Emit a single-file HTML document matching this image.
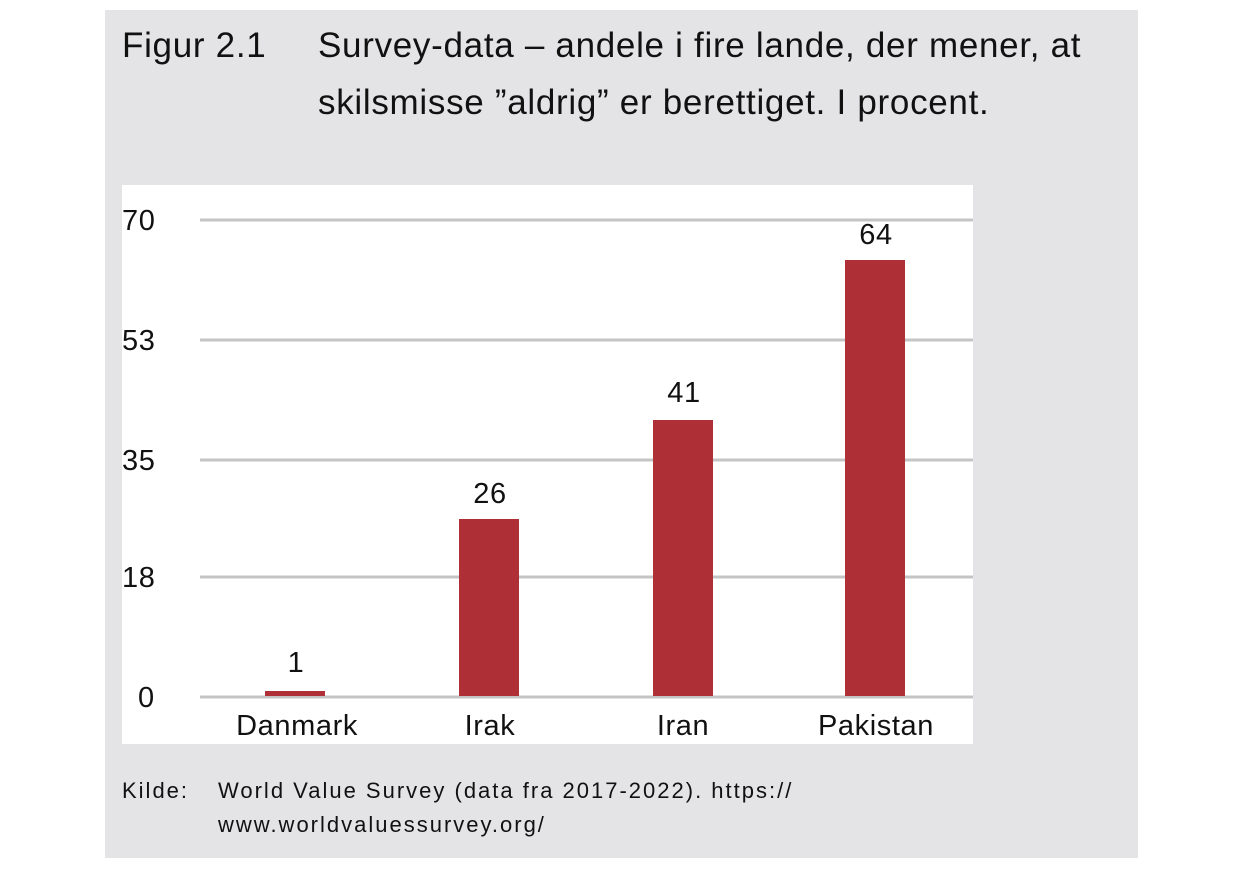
<!DOCTYPE html>
<html><head><meta charset="utf-8"><style>
body{margin:0;width:1236px;height:872px;background:#fff;position:relative;overflow:hidden;font-family:"Liberation Sans",sans-serif}
.panel{position:absolute;left:105px;top:10px;width:1033px;height:848px;background:#e4e4e6}
.t{position:absolute;font-size:35px;letter-spacing:0.7px;color:#111;white-space:nowrap}
.k{position:absolute;font-size:22px;letter-spacing:2px;color:#111;white-space:nowrap}
</style></head><body>
<div class="panel"></div>
<div class="t" style="left:122px;top:26px">Figur 2.1</div>
<div class="t" style="left:318px;top:26px">Survey-data – andele i fire lande, der mener, at</div>
<div class="t" style="left:318px;top:83px">skilsmisse ”aldrig” er berettiget. I procent.</div>
<svg style="position:absolute;left:0;top:0" width="1236" height="872">
<rect x="122" y="185" width="851" height="559" fill="#fff"/>
<g stroke="#c4c4c4" stroke-width="3">
<line x1="200" x2="973" y1="220" y2="220"/>
<line x1="200" x2="973" y1="340" y2="340"/>
<line x1="200" x2="973" y1="460" y2="460"/>
<line x1="200" x2="973" y1="577" y2="577"/>
<line x1="200" x2="973" y1="697" y2="697"/>
</g>
<g fill="#ae2f35">
<rect x="265" y="691" width="60" height="5"/>
<rect x="459" y="519" width="60" height="177"/>
<rect x="653" y="420" width="60" height="276"/>
<rect x="845" y="260" width="60" height="436"/>
</g>
<g font-family="Liberation Sans,sans-serif" font-size="29" letter-spacing="0.6" fill="#111">
<text x="122" y="230">70</text><text x="122" y="350">53</text><text x="122" y="470">35</text><text x="122" y="587">18</text><text x="138" y="707">0</text>
<g text-anchor="middle">
<text x="296" y="672">1</text><text x="490" y="503">26</text><text x="684" y="402">41</text><text x="876" y="244">64</text>
<text x="297" y="735">Danmark</text><text x="490" y="735">Irak</text><text x="683" y="735">Iran</text><text x="876" y="735">Pakistan</text>
</g></g>
</svg>
<div class="k" style="left:122px;top:778px">Kilde:</div>
<div class="k" style="left:218px;top:778px">World Value Survey (data fra 2017-2022). https://</div>
<div class="k" style="left:218px;top:812px">www.worldvaluessurvey.org/</div>
</body></html>
